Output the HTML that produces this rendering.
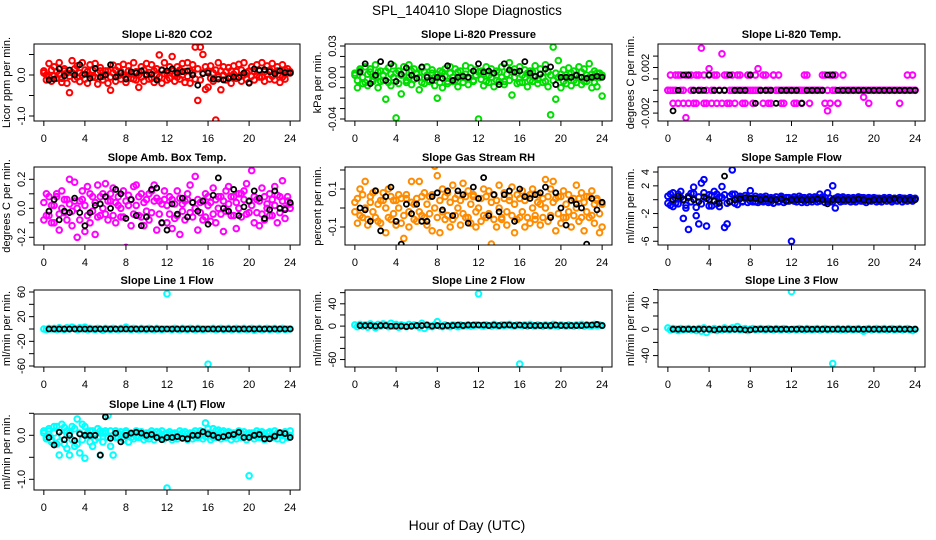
<!DOCTYPE html>
<html><head><meta charset="utf-8">
<style>
html,body{margin:0;padding:0;background:#fff;}
svg{display:block;font-family:"Liberation Sans",sans-serif;}
</style></head>
<body>
<svg id="chart" width="936" height="540" viewBox="0 0 936 540">
<rect x="0" y="0" width="936" height="540" fill="#fff"/>
<text x="467" y="15" text-anchor="middle" font-size="13.5">SPL_140410  Slope Diagnostics</text>
<text x="467" y="530" text-anchor="middle" font-size="14">Hour of Day (UTC)</text>
</svg>
<script>
// shared x data
const hoursColored = [0,0.25,0.5,0.75,1,1.25,1.5,1.75,2,2.25,2.5,2.75,
3,3.25,3.5,3.75,4,4.25,4.5,4.75,5,5.25,5.5,5.75,
6,6.25,6.5,6.75,7,7.25,7.5,7.75,8,8.25,8.5,8.75,
9,9.25,9.5,9.75,10,10.25,10.5,10.75,11,11.25,11.5,11.75,
12,12.25,12.5,12.75,13,13.25,13.5,13.75,14,14.25,14.5,14.75,
15,15.25,15.5,15.75,16,16.25,16.5,16.75,17,17.25,17.5,17.75,
18,18.25,18.5,18.75,19,19.25,19.5,19.75,20,20.25,20.5,20.75,
21,21.25,21.5,21.75,22,22.25,22.5,22.75,23,23.25,23.5,23.75,24];
const hoursBlack = [0.5,1,1.5,2,2.5,3,3.5,4,4.5,5,5.5,6,6.5,7,7.5,8,8.5,9,9.5,10,10.5,11,11.5,12,
12.5,13,13.5,14,14.5,15,15.5,16,16.5,17,17.5,18,18.5,19,19.5,20,20.5,21,21.5,22,22.5,23,23.5,24];
const xTicks = [0,4,8,12,16,20,24];

const co2Colored = [0.05,-0.12,0.28,-0.15,0.2,-0.08,0.3,-0.18,0.15,-0.2,-0.43,0.35,
-0.1,0.22,-0.16,0.3,0.12,-0.2,0.25,-0.05,0.28,-0.22,0.18,-0.12,
0.1,-0.2,-0.37,0.24,-0.15,0.2,-0.1,0.26,-0.18,0.22,-0.08,0.3,
-0.12,-0.3,0.2,-0.15,0.28,-0.1,0.25,-0.18,0.15,0.49,-0.2,0.3,
-0.12,0.2,0.45,-0.15,0.2,-0.1,0.28,-0.18,0.3,-0.2,0.25,0.68,
-0.62,0.68,0.5,-0.35,-0.3,0.22,-0.15,-1.1,0.3,-0.36,0.2,-0.12,
0.18,-0.2,0.22,-0.08,0.26,-0.15,0.3,-0.1,-0.18,0.2,-0.12,0.25,
-0.05,0.3,-0.15,0.22,-0.1,0.28,-0.12,0.2,-0.18,0.25,-0.1,0.15,0.05];
const co2Extra = [0.1,0.0,-0.05,0.12,-0.02,0.08,0.02,-0.08,0.1,0.05,-0.03,0.06,
0.15,-0.05,0.05,0.0,-0.1,0.08,0.0,0.12,-0.06,0.05,0.1,-0.03,
0.02,0.1,-0.05,0.05,0.12,-0.02,0.08,0.0,-0.05,0.1,0.03,-0.1,
0.08,0.0,-0.05,0.12,0.02,0.06,-0.08,0.1,0.0,-0.05,0.12,0.03,
0.05,-0.08,0.1,0.02,-0.05,0.12,0.0,0.08,-0.03,0.1,0.05,-0.1,
0.15,-0.12,0.05,0.2,0.1,-0.08,0.05,0.12,-0.05,0.1,0.0,0.08,
-0.05,0.1,0.02,0.08,-0.05,0.12,0.0,0.06,0.1,-0.03,0.08,0.0,
0.1,-0.05,0.08,0.02,0.12,-0.03,0.06,0.1,0.0,-0.05,0.12,0.05,0.08];
const co2Black = [-0.12,-0.1,0.15,-0.02,0.12,0.0,0.25,0.02,
-0.08,0.16,-0.05,0.0,0.25,-0.05,0.05,-0.1,
0.08,0.05,0.1,0.0,0.02,-0.12,0.12,0.1,
0.15,0.05,0.08,0.1,0.0,-0.25,0.03,0.05,
-0.1,-0.1,-0.12,-0.08,-0.05,-0.06,0.05,-0.2,
0.15,0.12,0.13,0.08,0.03,0.1,0.06,0.05];

const presColored = [0.002,-0.01,0.008,-0.006,0.01,-0.008,0.005,-0.004,0.012,-0.01,0.006,-0.003,
-0.021,0.009,-0.008,0.011,-0.039,0.006,-0.016,0.01,-0.005,0.012,-0.007,0.008,
0.004,-0.012,0.009,-0.006,0.01,-0.004,0.007,-0.008,-0.02,0.006,-0.01,0.008,
-0.006,0.01,-0.004,0.008,-0.009,0.006,-0.005,0.011,-0.007,0.009,-0.004,0.007,
-0.04,0.006,-0.008,0.01,-0.005,0.008,-0.009,0.006,-0.004,0.01,-0.007,0.009,
0.014,-0.017,0.008,-0.006,0.01,-0.005,0.007,-0.009,0.006,-0.004,0.011,-0.006,
0.008,-0.005,0.012,-0.009,-0.036,0.029,-0.021,0.016,-0.01,0.007,-0.006,0.009,
-0.008,0.006,-0.005,0.01,-0.007,0.008,-0.004,0.013,-0.01,0.006,-0.009,0.004,-0.018];
const presExtra = [0.004,-0.003,0.006,0.0,-0.005,0.003,0.008,-0.002,0.0,0.005,-0.004,0.002,
0.006,-0.005,0.003,0.0,0.004,-0.006,0.002,0.005,-0.003,0.0,0.006,-0.002,
0.003,0.0,-0.005,0.005,0.002,-0.003,0.004,0.0,0.003,-0.005,0.005,0.001,
-0.004,0.004,0.0,-0.003,0.005,0.001,-0.005,0.003,0.0,0.004,-0.003,0.002,
0.005,-0.002,0.003,-0.004,0.002,0.0,0.004,-0.003,0.005,0.0,-0.004,0.003,
-0.003,0.005,0.0,0.004,-0.005,0.002,0.0,0.004,-0.003,0.005,0.0,-0.002,
0.003,0.0,-0.004,0.005,0.002,-0.003,0.004,0.0,0.003,-0.004,0.002,0.0,
0.004,-0.003,0.002,0.0,0.005,-0.004,0.002,0.0,0.003,-0.005,0.004,0.0,0.002];
const presBlack = [0.005,0.013,-0.006,0.002,0.015,-0.003,0.013,-0.004,
0.003,0.009,0.002,-0.001,0.01,0.0,-0.003,0.0,
-0.001,0.011,-0.003,0.0,0.001,0.0,0.006,0.013,
0.005,0.006,0.004,-0.007,0.013,0.007,0.005,0.006,
0.015,0.004,0.001,0.003,0.008,0.01,-0.007,0.0,
0.0,0.0,0.002,0.0,-0.001,0.0,0.001,0.0];

const tempColored = [0,0.00134,-0.00114,0,0.00134,0,-0.00114,-0.0024,0.00134,0,-0.00114,0.00134,
0,0.0037,0.00134,-0.00114,0.0019,0,0.00134,-0.00114,0,0.0032,0.00134,-0.00114,
0,0.00134,-0.00114,0,0.00134,-0.00114,0,0.00134,0,-0.00114,0,0.0019,
0,-0.00114,0.00134,0,-0.00114,0.00134,0,0.00134,-0.00114,0,0,0,
0,0,-0.00114,0,-0.00114,0,0.00134,-0.00114,0,0,0,0,
0.00134,-0.00114,-0.0018,0.00134,0,0.00134,-0.00114,0,0,0,0,0,
0,0,0,0,-0.0006,0,-0.00114,0,0,0,0,0,
0,0,0,0,0,0,-0.00114,0,0,0.00134,0,0.00134,0];
const tempExtra = [0,0,0,0.00134,-0.00114,0.00134,0,0.00134,-0.00114,0.00134,0,-0.00114,
0.00134,0,-0.00114,0,0.00134,-0.00114,0,0.00134,0,-0.00114,0,0.00134,
-0.00114,0,0,0.00134,0,0,-0.00114,0,0.00134,0,0.00134,0,
0,0.00134,0,-0.00114,0,0.00134,0,0,0,-0.00114,0,0,
0,-0.00114,0,0,0,0.00134,0,0,0,0,0,0,
0,0.00134,0,-0.00114,0.00134,0,-0.00114,0,0.00134,0,0,0,
0,0,0,0,0,0,0,0,0,0,0,0,
0,0,0,0,0,0,0,0,0,0,0,0,0];
const tempBlack = [-0.0018,0,0.00134,0.00134,0,0,0,0.00134,
0,0,0,0.00134,0,0,0,0.00134,
-0.00114,0,0,0,-0.00114,0,0,0,
0,-0.00114,0,0,0,0,0.00134,0.00134,
0,0,0,0,0,0,0,0,
0,0,0,0,0,0,0,0];

const ambColored = [-0.08,0.1,-0.05,0.02,-0.1,0.08,-0.15,0.12,-0.03,0.06,0.2,-0.12,
0.18,-0.2,0.05,0.12,-0.16,0.15,-0.1,0.08,-0.18,0.16,-0.05,0.1,
0.17,-0.08,0.05,0.14,-0.1,0.02,-0.06,0.12,-0.27,0.09,-0.12,0.15,
0.16,-0.05,0.1,-0.12,0.06,-0.08,0.12,0.16,-0.15,0.05,-0.1,0.12,
-0.1,0.08,-0.14,-0.07,0.12,-0.18,0.03,-0.08,0.06,0.16,-0.06,0.22,
-0.15,0.04,-0.08,0.1,0.02,-0.09,0.14,-0.1,0.08,-0.04,-0.16,0.12,
0.15,-0.05,0.08,-0.14,0.1,-0.06,0.12,0.17,-0.03,0.26,-0.1,0.06,
-0.12,0.14,-0.08,0.03,0.1,-0.05,0.15,-0.1,0.08,0.19,-0.07,0.05,0.03];
const ambExtra = [0.04,-0.05,0.08,-0.1,0.02,0.1,-0.04,0.0,0.06,-0.08,0.03,-0.02,
0.05,0.0,-0.08,0.06,0.02,-0.05,0.1,-0.02,0.04,-0.06,0.08,0.0,
-0.04,0.05,0.1,-0.05,0.04,0.08,0.0,-0.06,0.05,0.02,0.06,-0.04,
0.02,0.08,-0.06,0.04,-0.02,0.1,-0.03,0.05,0.07,-0.04,0.03,0.06,
0.02,-0.04,0.06,0.03,-0.05,0.07,-0.02,0.05,0.1,-0.03,0.04,0.0,
0.06,-0.03,0.05,-0.06,0.08,0.04,-0.04,0.06,0.0,0.08,0.05,-0.02,
0.03,0.08,-0.05,0.04,0.0,0.1,0.06,-0.04,0.05,0.02,0.08,-0.03,
0.05,-0.04,0.08,0.0,-0.05,0.06,0.02,0.09,-0.03,0.05,0.0,0.08,0.0];
const ambBlack = [-0.02,0.06,-0.08,-0.02,-0.03,0.07,-0.03,-0.12,
-0.03,0.02,0.03,0.08,0.0,0.13,0.1,-0.07,
0.06,-0.05,-0.12,-0.06,0.13,0.14,-0.1,-0.15,
0.03,-0.04,0.07,-0.06,0.04,-0.02,0.05,-0.11,
0.09,0.21,0.0,-0.02,0.13,-0.05,0.01,0.05,
0.12,0.07,-0.07,-0.01,0.12,0.0,-0.01,0.04];

const rhColored = [0.03,-0.08,0.1,-0.05,0.14,-0.09,0.06,-0.02,0.09,-0.07,0.04,0.08,
-0.13,0.1,-0.06,0.04,-0.09,0.07,-0.08,-0.16,0.05,-0.1,0.14,0.02,
-0.07,0.14,-0.04,0.08,-0.09,0.06,-0.12,0.22,0.17,-0.13,0.1,-0.06,
0.08,-0.1,0.12,-0.04,0.07,-0.09,0.13,-0.05,0.09,-0.08,0.06,-0.1,
0.05,-0.07,0.1,-0.05,0.09,-0.19,0.07,-0.1,0.12,-0.06,0.08,-0.09,
0.04,0.11,-0.13,0.07,-0.05,0.09,-0.1,0.06,-0.08,0.1,-0.04,0.07,
-0.09,0.05,0.15,-0.07,0.1,0.14,-0.12,0.06,-0.08,0.09,-0.05,0.07,
-0.1,0.05,0.12,-0.07,0.08,-0.12,0.06,-0.05,0.09,-0.08,0.04,-0.13,-0.1];
const rhExtra = [-0.02,0.05,-0.04,0.07,0.0,-0.06,0.03,0.08,-0.05,0.02,-0.08,0.04,
0.0,-0.05,0.06,-0.03,0.04,0.0,0.05,-0.04,0.07,-0.02,0.03,-0.06,
0.05,-0.02,0.06,-0.05,0.02,-0.03,0.07,0.0,-0.05,0.04,-0.02,0.06,
-0.04,0.03,-0.06,0.05,0.0,0.04,-0.03,0.06,-0.05,0.02,0.07,-0.02,
0.0,0.05,-0.04,0.06,-0.03,0.03,-0.06,0.04,0.0,-0.05,0.05,-0.02,
0.06,-0.04,0.02,-0.06,0.05,-0.02,0.04,-0.05,0.07,0.0,-0.06,0.03,
0.02,-0.05,0.0,0.06,-0.04,0.03,0.05,-0.03,0.06,-0.05,0.02,-0.02,
0.04,-0.04,0.0,0.05,-0.05,0.03,-0.02,0.06,-0.04,0.02,0.05,-0.03,0.02];
const rhBlack = [0.0,-0.01,-0.07,0.09,-0.12,0.06,0.11,-0.07,
-0.19,0.02,-0.03,0.02,-0.07,-0.07,0.06,0.08,
-0.01,0.09,-0.04,0.09,0.07,-0.08,0.11,0.05,
0.16,-0.04,0.07,-0.02,0.07,0.09,-0.07,0.1,
0.06,0.05,0.07,0.08,0.11,-0.05,0.08,0.0,
-0.09,0.04,0.02,0.0,-0.19,0.05,-0.01,0.03];

const sampleColored = [0.5,-0.8,1.0,-0.5,0.8,0.3,-2.7,-1.2,-4.3,0.9,1.8,-2.3,
-3.5,2.4,2.9,-3.8,0.7,-0.9,1.2,-0.6,0.4,1.9,-4.0,-3.5,
0.5,4.3,0.8,-0.7,0.5,-0.3,0.6,-0.4,1.3,-0.3,0.5,-0.4,
0.4,-0.3,0.5,-0.4,0.3,-0.5,0.4,-0.3,0.5,-0.4,0.3,-0.2,
-6.0,0.4,-0.3,0.5,-0.4,0.3,-0.4,0.4,-0.3,0.4,-0.3,0.8,
0.4,-0.4,1.0,-0.3,2.0,-1.2,0.4,-0.3,0.4,-0.2,0.3,-0.3,
0.3,-0.3,0.4,-0.2,0.3,-0.4,0.3,-0.2,0.3,-0.3,0.2,-0.3,
0.3,-0.2,0.3,-0.3,0.2,-0.2,0.3,-0.3,0.2,-0.2,0.3,-0.2,0.2];
const sampleExtra = [-0.5,0.8,-1.0,0.2,-0.6,1.2,0.0,-0.8,0.5,-0.3,0.9,-1.1,
0.4,-0.6,1.0,0.2,-0.9,0.6,-0.2,0.8,-1.0,0.3,0.7,-0.5,
-0.3,0.8,-0.5,0.2,0.3,-0.2,0.2,0.3,-0.2,0.2,-0.3,0.2,
-0.2,0.3,-0.2,0.2,-0.3,0.2,0.0,-0.2,0.3,0.0,-0.2,0.3,
0.2,-0.2,0.2,0.0,0.3,-0.2,0.2,-0.1,0.2,0.0,0.3,-0.2,
0.2,0.3,-0.2,0.2,-0.3,0.2,0.0,0.3,-0.2,0.2,0.0,0.2,
-0.2,0.2,0.0,0.3,-0.2,0.2,-0.1,0.2,0.0,0.2,-0.2,0.1,
0.2,-0.1,0.2,0.0,0.2,-0.1,0.1,0.2,-0.1,0.1,0.2,0.0,0.1];
const sampleBlack = [0.0,0.5,0.0,0.3,0.0,-0.3,0.4,0.0,
-0.2,-0.5,3.4,-0.3,0.0,0.1,0.3,0.2,
0.2,0.0,0.1,0.0,0.0,0.1,-0.2,0.0,
0.0,0.0,0.0,0.0,0.1,0.0,-0.6,0.0,
0.0,0.0,0.0,0.0,0.1,0.0,-0.2,0.0,
0.0,0.0,0.0,0.1,0.0,0.0,0.0,0.0];

const line1Colored = [0,-1,1,0,1,-1,2,0,-1,2,0,3,
1,-1,2,0,3,-1,1,0,-1,1,0,-2,
1,0,-1,1,0,-1,1,0,3,0,-1,1,
0,-1,1,0,-1,1,0,-1,1,0,-1,0,
57,0,-1,1,0,-1,1,0,-1,1,0,-1,
1,0,-1,0,-57,0,1,-1,0,1,-1,0,
1,-1,0,1,-1,0,1,-1,0,1,-2,0,
1,-1,0,1,-1,0,1,-1,0,1,-1,0,0];
const line1Black = [0,0,0,0,0,0,0,0,0,0,0,0,0,0,0,0,0,0,0,0,0,0,0,0,
0,0,0,0,0,0,0,0,0,0,0,0,0,0,0,0,0,0,0,0,0,0,0,0];

const line2Colored = [2,-1,3,0,2,-2,4,1,-3,3,0,4,
2,-1,5,0,3,-2,2,1,-1,3,0,2,
1,-2,5,-4,2,0,-1,2,8,0,-1,2,
0,-1,2,1,-1,2,0,1,2,0,1,2,
58,1,0,2,1,0,3,1,0,2,1,2,
3,1,0,2,-68,1,2,0,3,1,0,2,
1,0,2,1,0,3,1,0,2,1,0,2,
1,0,2,1,3,0,2,1,0,3,1,2,1];
const line2Black = [1,1,1,0,1,1,0,0,0,-1,0,1,1,2,0,1,0,1,1,2,1,2,2,2,
2,1,2,1,2,2,1,2,1,1,1,1,1,1,2,1,1,1,1,1,2,2,3,1];

const line3Colored = [2,-1,1,0,-2,1,-1,0,1,-1,0,-2,
1,-3,2,-5,0,-1,1,-2,0,-1,2,0,
-1,2,0,4,-1,0,1,-2,0,1,-1,0,
1,0,-1,1,0,-1,1,0,-1,1,0,-1,
57,0,-1,1,0,-1,1,0,-1,0,1,-1,
0,1,-1,0,-52,0,1,-1,0,-1,1,0,
-1,0,1,-1,-3,0,1,-1,0,1,-1,0,
1,-1,0,1,-1,0,1,-1,0,1,-1,-2,0];
const line3Black = [0,0,0,0,0,0,0,0,-1,0,0,0,0,0,-1,-1,0,0,0,0,0,0,0,0,
0,0,0,0,0,0,0,0,0,0,0,0,0,0,0,0,0,0,0,0,0,0,0,0];

const line4Colored = [0.05,-0.08,0.1,-0.15,0.2,-0.2,-0.45,0.25,0.18,-0.3,-0.45,0.2,
-0.25,0.37,-0.4,0.25,-0.52,0.05,-0.15,0.1,-0.1,0.15,-0.45,0.05,
0.1,0.45,-0.25,-0.45,0.1,-0.05,0.08,-0.1,0.1,-0.15,0.05,-0.08,
0.1,-0.05,0.08,-0.1,0.05,-0.08,0.1,-0.1,0.08,-0.05,0.1,-0.08,
-1.2,0.08,-0.1,0.05,-0.08,0.1,-0.05,0.08,-0.1,0.05,-0.08,0.1,
-0.05,0.1,-0.08,0.28,0.05,-0.1,0.15,-0.05,0.12,-0.08,0.1,-0.05,
0.08,-0.1,0.05,-0.08,0.1,-0.05,0.08,-0.1,-0.92,0.05,-0.08,0.1,
-0.05,0.08,-0.1,0.05,0.08,-0.05,0.1,-0.08,0.05,-0.1,0.08,-0.05,0.1];
const line4Extra = [0.1,-0.05,0.15,-0.1,0.05,0.2,-0.15,0.0,-0.2,0.1,0.05,-0.1,
0.15,-0.2,0.05,-0.1,0.2,0.0,0.1,-0.25,0.05,-0.05,0.1,-0.15,
0.05,-0.05,0.1,0.0,-0.05,0.05,0.02,-0.03,0.05,0.0,-0.05,0.03,
-0.03,0.05,0.0,0.03,-0.05,0.05,0.0,0.04,-0.03,0.05,0.0,0.03,
0.05,0.0,0.04,-0.05,0.03,0.0,0.05,-0.03,0.04,0.0,0.05,-0.04,
0.03,0.0,0.05,-0.03,0.15,0.0,-0.05,0.1,0.03,0.08,-0.03,0.05,
0.0,0.05,-0.03,0.04,0.0,0.05,-0.04,0.03,0.05,0.0,0.04,-0.03,
0.05,0.0,0.04,-0.03,0.05,0.0,-0.04,0.05,0.03,0.0,0.05,-0.03,0.0];
const line4Black = [-0.05,-0.22,0.07,-0.1,0.0,-0.12,0.03,0.0,
0.0,0.0,-0.45,0.42,-0.07,0.05,-0.15,0.0,
0.05,0.07,0.05,0.0,0.02,-0.05,-0.1,-0.05,
-0.05,-0.03,-0.07,-0.08,0.0,0.0,0.08,0.03,
0.0,-0.05,-0.03,0.0,0.02,0.07,-0.05,-0.05,
0.0,0.02,-0.08,-0.08,-0.02,0.06,0.04,-0.05];

// tick values and labels
const co2Ticks=[-1,-0.5,0,0.5], co2Labels=['-1.0','','0.0',''];
const presTicks=[-0.04,-0.03,-0.02,-0.01,0,0.01,0.02,0.03], presLabels=['-0.04','','','','0.00','','','0.03'];
const tempTicks=[-0.002,-0.001,0,0.001,0.002,0.003], tempLabels=['-0.002','','','','0.002',''];
const ambTicks=[-0.2,-0.1,0,0.1,0.2], ambLabels=['-0.2','','0.0','','0.2'];
const rhTicks=[-0.1,0,0.1,0.2], rhLabels=['-0.1','','0.1',''];
const sampleTicks=[-6,-4,-2,0,2,4], sampleLabels=['-6','','-2','','2','4'];
const line1Ticks=[-60,-40,-20,0,20,40,60], line1Labels=['-60','','-20','','20','','60'];
const line2Ticks=[-60,-40,-20,0,20,40,60], line2Labels=['-60','','','0','','40',''];
const line3Ticks=[-40,-20,0,20,40,60], line3Labels=['-40','','0','','40',''];
const line4Ticks=[-1,-0.5,0,0.5], line4Labels=['-1.0','','0.0',''];

const NS='http://www.w3.org/2000/svg';
const svg=document.getElementById('chart');
function mk(tag,attrs,parent){const e=document.createElementNS(NS,tag);for(const k in attrs)e.setAttribute(k,attrs[k]);(parent||svg).appendChild(e);return e;}

const cols=[{l:34,r:300},{l:345,r:612},{l:658,r:925}];
const rows=[{t:44,b:121},{t:167,b:245},{t:290,b:367},{t:414,b:490}];

const panels=[
 {key:'co2',title:'Slope Li-820 CO2',ylab:'Licor ppm per min.',c:0,r:0,v0:0,p0:75,v1:-1,p1:116,col:'#ff0000',cd:co2Colored,ed:co2Extra,bd:co2Black,tk:co2Ticks,tl:co2Labels},
 {key:'pressure',title:'Slope Li-820 Pressure',ylab:'kPa per min.',c:1,r:0,v0:0.03,p0:46,v1:-0.04,p1:119,col:'#00dd00',cd:presColored,ed:presExtra,bd:presBlack,tk:presTicks,tl:presLabels},
 {key:'temp',title:'Slope Li-820 Temp.',ylab:'degrees C per min.',c:2,r:0,v0:0,p0:90.3,v1:0.001,p1:78.9,col:'#ff00ff',cd:tempColored,ed:tempExtra,bd:tempBlack,tk:tempTicks,tl:tempLabels},
 {key:'amb-temp',title:'Slope Amb. Box Temp.',ylab:'degrees C per min.',c:0,r:1,v0:0,p0:208.3,v1:0.2,p1:179.3,col:'#ff00ff',cd:ambColored,ed:ambExtra,bd:ambBlack,tk:ambTicks,tl:ambLabels},
 {key:'rh',title:'Slope Gas Stream RH',ylab:'percent per min.',c:1,r:1,v0:0,p0:208,v1:0.1,p1:189,col:'#ff8c00',cd:rhColored,ed:rhExtra,bd:rhBlack,tk:rhTicks,tl:rhLabels},
 {key:'sample-flow',title:'Slope Sample Flow',ylab:'ml/min per min.',c:2,r:1,v0:0,p0:199.7,v1:4,p1:172,col:'#0000ff',cd:sampleColored,ed:sampleExtra,bd:sampleBlack,tk:sampleTicks,tl:sampleLabels},
 {key:'line1',title:'Slope Line 1 Flow',ylab:'ml/min per min.',c:0,r:2,v0:0,p0:329,v1:60,p1:292,col:'#00ffff',cd:line1Colored,ed:[],bd:line1Black,tk:line1Ticks,tl:line1Labels},
 {key:'line2',title:'Slope Line 2 Flow',ylab:'ml/min per min.',c:1,r:2,v0:0,p0:326.1,v1:40,p1:303.8,col:'#00ffff',cd:line2Colored,ed:[],bd:line2Black,tk:line2Ticks,tl:line2Labels},
 {key:'line3',title:'Slope Line 3 Flow',ylab:'ml/min per min.',c:2,r:2,v0:0,p0:329.2,v1:40,p1:302.8,col:'#00ffff',cd:line3Colored,ed:[],bd:line3Black,tk:line3Ticks,tl:line3Labels},
 {key:'line4',title:'Slope Line 4 (LT) Flow',ylab:'ml/min per min.',c:0,r:3,v0:0,p0:435.3,v1:-1,p1:479.3,col:'#00ffff',cd:line4Colored,ed:line4Extra,bd:line4Black,tk:line4Ticks,tl:line4Labels}
];

panels.forEach(p=>{
  const L=cols[p.c].l,R=cols[p.c].r,T=rows[p.r].t,B=rows[p.r].b;
  const pad=(R-L)*0.037;
  const xs=h=>L+pad+(R-L-2*pad)*h/24;
  const ys=v=>p.p0+(v-p.v0)*(p.p1-p.p0)/(p.v1-p.v0);
  const g=mk('g',{});
  
  
  const cp=mk('clipPath',{id:'clip-'+p.key},g);
  mk('rect',{x:L,y:T,width:R-L,height:B-T},cp);
  const pts=mk('g',{'clip-path':'url(#clip-'+p.key+')'},g);
  
  
  for(let i=0;i<Math.min(p.ed.length,hoursColored.length);i++){
    const c=mk('circle',{cx:xs(hoursColored[i]),cy:ys(p.ed[i]),r:2.8,fill:'none',stroke:p.col,'stroke-width':2},pts);
    
    
  }
  for(let i=0;i<Math.min(p.cd.length,hoursColored.length);i++){
    const c=mk('circle',{cx:xs(hoursColored[i]),cy:ys(p.cd[i]),r:2.8,fill:'none',stroke:p.col,'stroke-width':2},pts);
    
    
  }
  for(let i=0;i<Math.min(p.bd.length,hoursBlack.length);i++){
    const c=mk('circle',{cx:xs(hoursBlack[i]),cy:ys(p.bd[i]),r:2.5,fill:'none',stroke:'#000','stroke-width':1.8},pts);
    
    
  }
  const box=mk('rect',{x:L,y:T,width:R-L,height:B-T,fill:'none',stroke:'#000','stroke-width':1},g);
  
  
  const t=mk('text',{x:(L+R)/2,y:T-6,'text-anchor':'middle','font-size':11,'font-weight':'bold'},g);
  t.textContent=p.title;
  
  
  const xa=mk('g',{},g);
  
  
  mk('line',{x1:xs(0),x2:xs(24),y1:B,y2:B,stroke:'#000'},xa);
  xTicks.forEach(h=>{
    mk('line',{x1:xs(h),x2:xs(h),y1:B,y2:B+5,stroke:'#000'},xa);
    const tx=mk('text',{x:xs(h),y:B+21,'text-anchor':'middle','font-size':11},xa);
    tx.textContent=h;
    
    
  });
  const ya=mk('g',{},g);
  
  
  p.tk.forEach((v,i)=>{
    const y=ys(v);
    mk('line',{x1:L-5,x2:L,y1:y,y2:y,stroke:'#000'},ya);
    if(p.tl[i]){
      const tx=mk('text',{x:L-9,y:y,'text-anchor':'middle','font-size':11,transform:'rotate(-90 '+(L-9)+' '+y+')'},ya);
      tx.textContent=p.tl[i];
      
      
    }
  });
  const yt=mk('text',{x:L-24,y:(T+B)/2,'text-anchor':'middle','font-size':11,transform:'rotate(-90 '+(L-24)+' '+((T+B)/2)+')'},g);
  yt.textContent=p.ylab;
  
  
});
</script>
</body></html>
